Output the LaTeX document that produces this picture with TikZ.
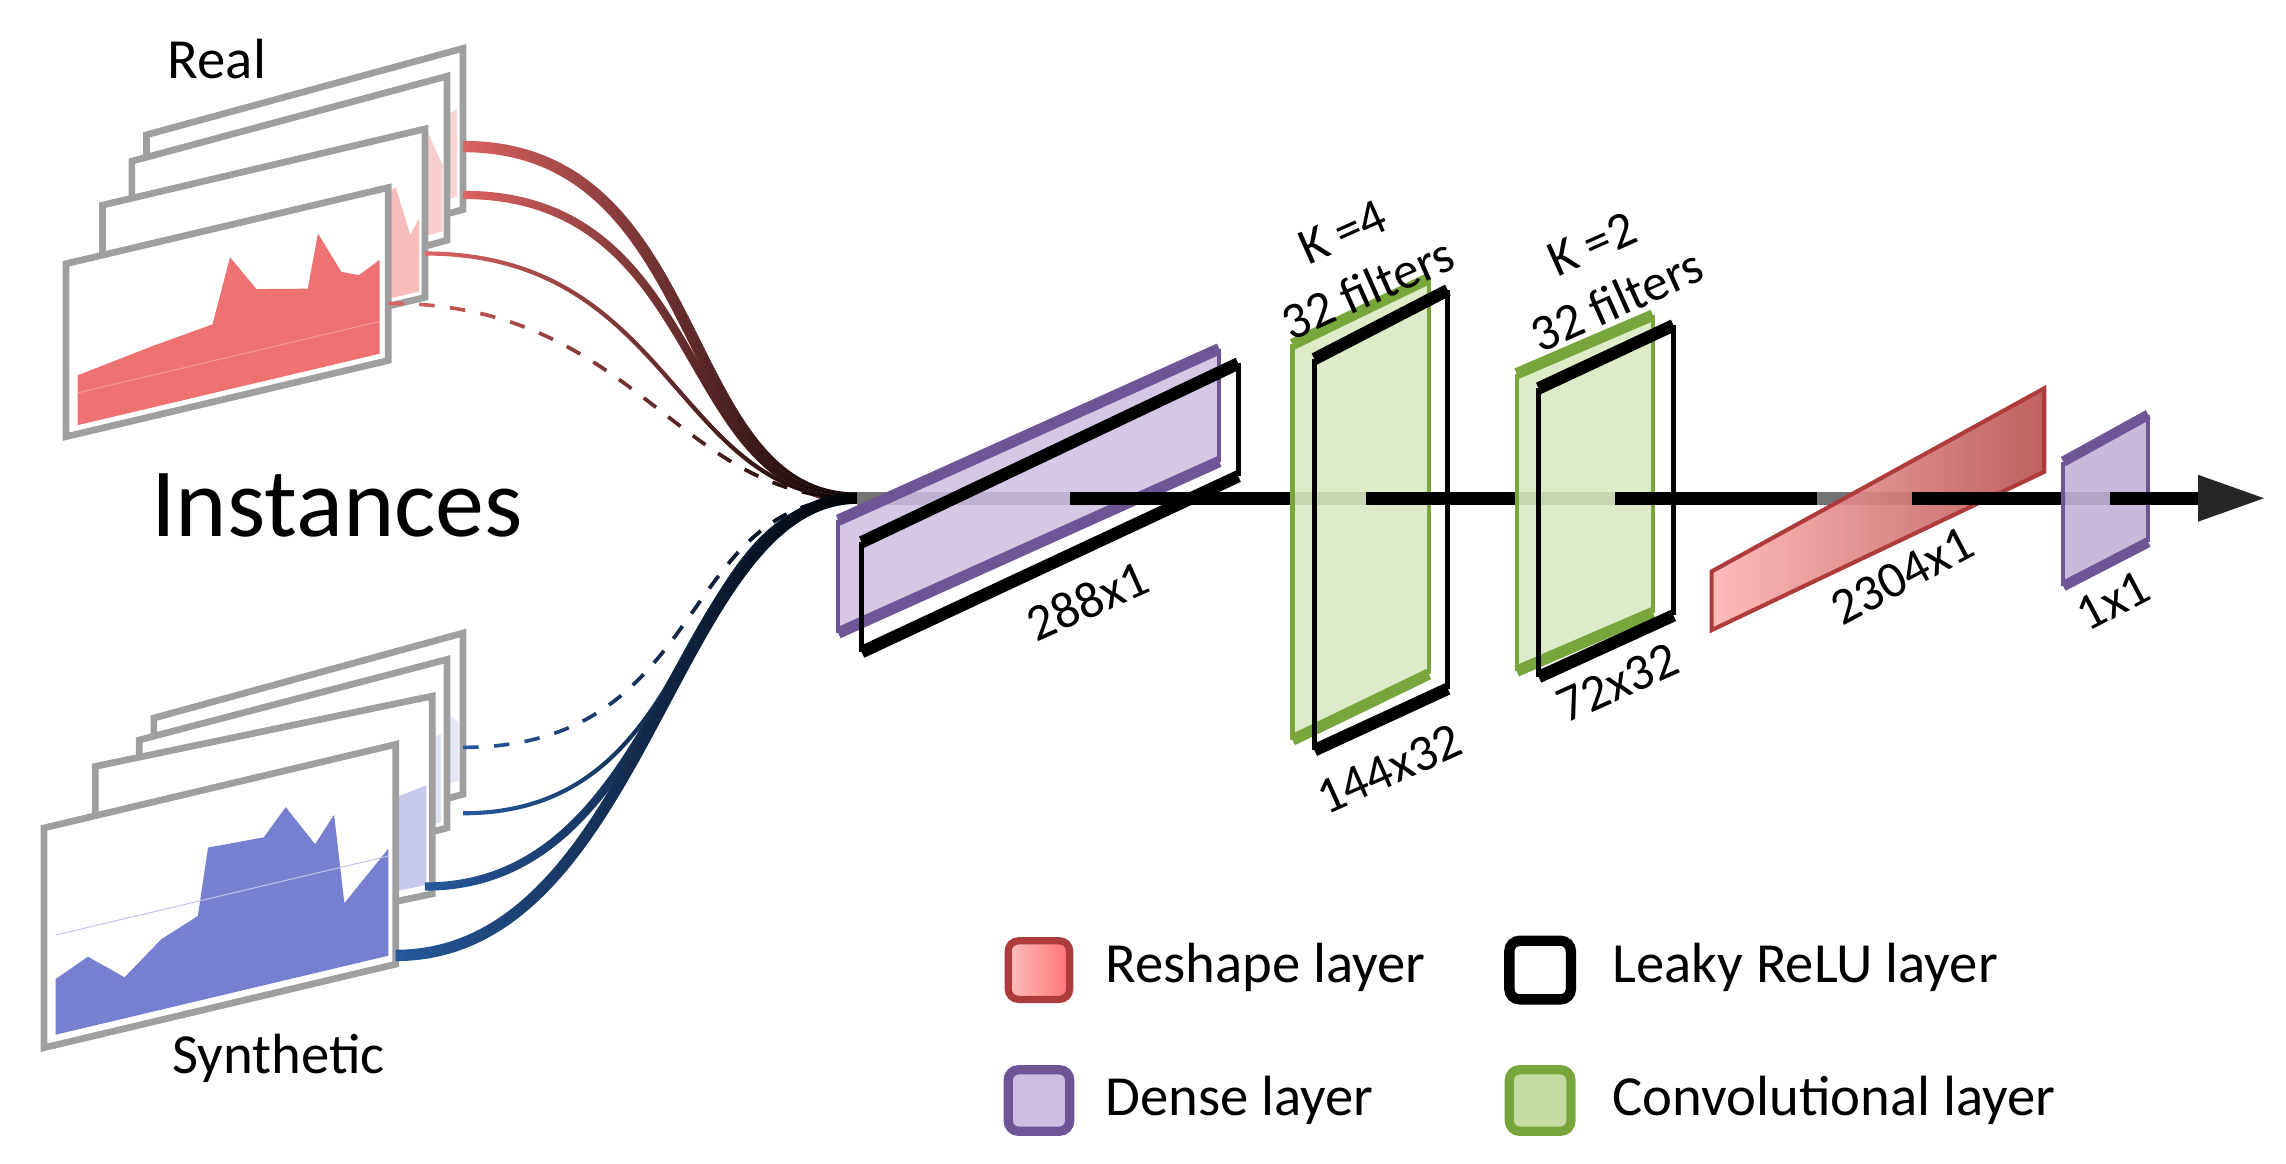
\documentclass[tikz,border=0pt]{standalone}
\usepackage{fontspec}
\setmainfont{Carlito}
\usetikzlibrary{fadings,arrows.meta}
\definecolor{rl}{RGB}{236,90,90}
\definecolor{bl}{RGB}{95,105,200}
\definecolor{rcurve}{RGB}{225,100,100}
\definecolor{bcurve}{RGB}{40,90,160}
\definecolor{pfill}{RGB}{205,190,225}
\definecolor{pedge}{RGB}{110,85,150}
\definecolor{gfill}{RGB}{215,232,190}
\definecolor{gedge}{RGB}{120,165,60}
\definecolor{redge}{RGB}{175,60,60}
\tikzset{
 frm/.style={draw=gray!75,line width=1.3pt,fill=white},
 lbl/.style={font=\fontsize{10}{12}\selectfont},
 leg/.style={font=\fontsize{11}{12}\selectfont,anchor=west},
 mainline/.style={line width=2.6pt,black},
}
\newcommand\chartframe[6]{%
 \begin{scope}[shift={(#1,#2)},yslant=#4/#3]
  \draw[frm] (0,0) rectangle (#3,#5);
  #6
 \end{scope}}
\begin{document}
\begin{tikzpicture}[x=0.01cm,y=-0.01cm]
\useasboundingbox (0,0) rectangle (1560,794);
% ---------- Real stack
\chartframe{100}{92}{216}{59}{110}{\fill[rl,opacity=.25] (150,100) -- (150,50) -- (180,40)--(190,20)--(200,45)--(212,40)--(212,100)--cycle;}
\chartframe{90}{110}{215}{58}{112}{\fill[rl,opacity=.3] (120,105)--(120,60)--(160,50)--(190,55)--(200,30)--(212,60)--(212,105)--cycle;}
\chartframe{70}{140}{220}{52}{115}{\fill[rl,opacity=.4] (70,110)--(70,75)--(130,65)--(135,40)--(170,50)--(200,35)--(210,70)--(216,60)--(216,110)--cycle;}
\chartframe{45}{180}{220}{52}{118}{\fill[rl,opacity=.85] (8,112)--(8,78)--(60,70)--(100,65)--(112,22)--(130,48)--(165,56)--(172,20)--(188,50)--(200,55)--(214,48)--(214,112)--cycle;
 \draw[rl!60,very thin] (8,90)--(214,90);}
% ---------- Synthetic stack
\chartframe{105}{490}{211}{58}{110}{\fill[bl,opacity=.15] (150,100)--(150,60)--(190,40)--(208,60)--(208,100)--cycle;}
\chartframe{95}{505}{210}{55}{115}{\fill[bl,opacity=.2] (130,110)--(130,60)--(170,40)--(180,55)--(206,50)--(206,110)--cycle;}
\chartframe{65}{523}{230}{48}{135}{\fill[bl,opacity=.35] (100,128)--(100,70)--(140,60)--(170,40)--(200,65)--(226,60)--(226,128)--cycle;}
\chartframe{30}{565}{240}{57}{150}{\fill[bl,opacity=.85] (8,143)--(8,105)--(30,95)--(55,115)--(80,95)--(105,85)--(112,40)--(150,42)--(165,25)--(185,55)--(198,38)--(205,100)--(225,80)--(235,70)--(235,143)--cycle;
 \draw[bl!40,very thin] (8,75)--(235,75);}
% labels
\node[font=\fontsize{11}{12}\selectfont] (real) at (148,40) {Real};
\node[font=\fontsize{11}{12}\selectfont] (syn) at (190,722) {Synthetic};
\node[font=\fontsize{19}{20}\selectfont] (inst) at (230,345) {Instances};
% ---------- curves
\coordinate (c) at (585,340);
\coordinate (r1) at (316,100); \coordinate (r2) at (316,133);
\coordinate (r3) at (290,173); \coordinate (r4) at (265,207);
\coordinate (s1) at (316,510); \coordinate (s2) at (316,555);
\coordinate (s3) at (290,605); \coordinate (s4) at (270,652);
\foreach \p/\w/\d in {r1/2.2pt/solid,r2/1.6pt/solid,r3/0.8pt/solid,r4/0.7pt/dashed}{
 \draw[rcurve,line width=\w,\d] (\p) .. controls +(170,0) and (460,340) .. (c);
 \draw[black,line width=\w,\d,path fading=west] (\p) .. controls +(170,0) and (460,340) .. (c);
}
\foreach \p/\w/\d in {s1/0.7pt/dashed,s2/0.8pt/solid,s3/1.6pt/solid,s4/2.2pt/solid}{
 \draw[bcurve,line width=\w,\d] (\p) .. controls +(170,0) and (460,340) .. (c);
 \draw[black,line width=\w,\d,path fading=west] (\p) .. controls +(170,0) and (460,340) .. (c);
}
% ---------- network
\coordinate (tip) at (1545,340);
\draw[mainline,black!55] (c) -- (1500,340);
% dense 1
\fill[pfill,opacity=.85] (572,432)--(572,355)--(832,238)--(832,315)--cycle;
\draw[pedge,line width=2.2pt] (572,355)--(832,238) (572,432)--(832,315);
\draw[pedge,line width=0.8pt] (572,355)--(572,432) (832,238)--(832,315);
\draw[line width=2.4pt] (588,370)--(845,248) (588,445)--(845,325);
\draw[line width=1pt] (588,370)--(588,445) (845,248)--(845,325);
\draw[mainline] (730,340)--(882,340);
\node[lbl,rotate=24] (l1) at (742,410) {288x1};
% green 1
\fill[gfill,opacity=.85] (882,235)--(975,190)--(975,460)--(882,505)--cycle;
\draw[gedge,line width=2.2pt] (882,235)--(975,190) (882,505)--(975,460);
\draw[gedge,line width=0.8pt] (882,235)--(882,505) (975,190)--(975,460);
\draw[line width=2.4pt] (897,245)--(988,198) (897,512)--(988,470);
\draw[line width=1pt] (897,245)--(897,512) (988,198)--(988,470);
\draw[mainline] (932,340)--(1035,340);
\node[lbl,rotate=24,align=center] (k4) at (925,178) {K =4\\32 filters};
\node[lbl,rotate=24] (l2) at (948,525) {144x32};
% green 2
\fill[gfill,opacity=.85] (1035,255)--(1128,215)--(1128,418)--(1035,458)--cycle;
\draw[gedge,line width=2.2pt] (1035,255)--(1128,215) (1035,458)--(1128,418);
\draw[gedge,line width=0.8pt] (1035,255)--(1035,458) (1128,215)--(1128,418);
\draw[line width=2.4pt] (1050,265)--(1142,222) (1050,462)--(1142,420);
\draw[line width=1pt] (1050,265)--(1050,462) (1142,222)--(1142,420);
\draw[mainline] (1102,340)--(1240,340);
\node[lbl,rotate=24,align=center] (k2) at (1095,186) {K =2\\32 filters};
\node[lbl,rotate=24] (l3) at (1104,466) {72x32};
% red
\shade[left color=red!30,right color=redge!90,opacity=.9] (1168,390)--(1395,265)--(1395,322)--(1168,430)--cycle;
\draw[redge,line width=0.8pt] (1168,390)--(1395,265)--(1395,322)--(1168,430)--cycle;
\draw[mainline] (1305,340)--(1410,340);
\node[lbl,rotate=28] (l4) at (1298,393) {2304x1};
% purple small
\fill[pfill!85!pedge,opacity=.85] (1408,315)--(1466,283)--(1466,370)--(1408,400)--cycle;
\draw[pedge,line width=2pt] (1408,315)--(1466,283) (1408,400)--(1466,370);
\draw[pedge,line width=0.8pt] (1408,315)--(1408,400) (1466,283)--(1466,370);
\draw[mainline] (1440,340)--(1502,340);
\fill[black!85] (1500,324)--(tip)--(1500,356)--cycle;
\node[lbl,rotate=28] (l5) at (1442,410) {1x1};
% ---------- legend
\shade[left color=red!25,right color=red!55,rounded corners=2pt] (688,642) rectangle (730,682);
\draw[redge,line width=1.4pt,rounded corners=2pt] (688,642) rectangle (730,682);
\node[leg] (t1) at (742,660) {Reshape layer};
\draw[black,line width=2pt,rounded corners=2pt,fill=white] (1030,642) rectangle (1072,682);
\node[leg] (t2) at (1088,660) {Leaky ReLU layer};
\draw[pedge,line width=1.8pt,rounded corners=2pt,fill=pfill] (688,730) rectangle (730,772);
\node[leg] (t3) at (742,751) {Dense layer};
\draw[gedge,line width=1.8pt,rounded corners=2pt,fill=gfill!80!gedge] (1030,730) rectangle (1072,772);
\node[leg] (t4) at (1088,751) {Convolutional layer};
\end{tikzpicture}
\end{document}
